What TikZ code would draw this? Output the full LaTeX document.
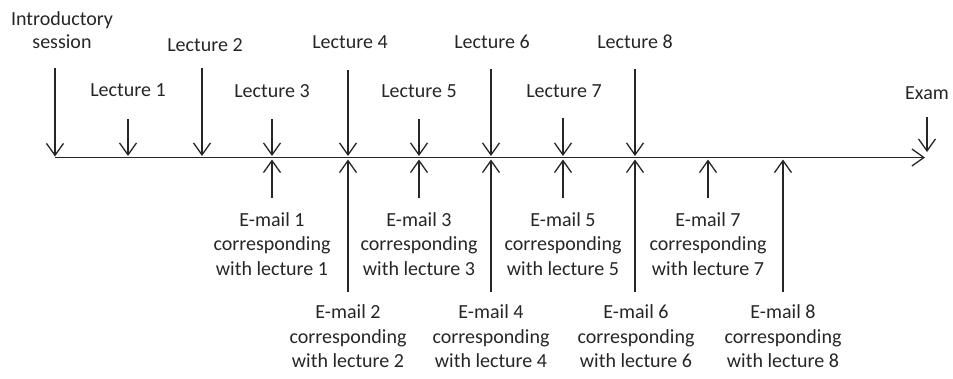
\documentclass[tikz,border=0pt]{standalone}
\usepackage{fontspec}
\setmainfont{Carlito}
\usetikzlibrary{arrows.meta}
\begin{document}
\begin{tikzpicture}[x=1pt,y=-1pt,
  lbl/.style={font=\fontsize{20}{24.5}\selectfont, inner sep=0pt, text=black!85},
  mlbl/.style={lbl, align=center, anchor=north},
  slbl/.style={lbl, anchor=base},
  arr/.style={line width=1.3pt, draw=black!85, -{Straight Barb[length=12pt,width=17pt,line width=1.3pt]}}]
\useasboundingbox (0,0) rectangle (953,378);

% axis
\coordinate (ax0) at (55,157.5);
\coordinate (ax1) at (925,157.5);
\draw[arr] (ax0) -- (ax1);

% top labels
\node[mlbl] (intro) at (62,11.5) {Introductory\\[-1.5pt]session};
\node[slbl] (l1) at (128,96) {Lecture 1};
\node[slbl] (l2) at (205,51.5) {Lecture 2};
\node[slbl] (l3) at (272,97) {Lecture 3};
\node[slbl] (l4) at (350,48.5) {Lecture 4};
\node[slbl] (l5) at (419,97) {Lecture 5};
\node[slbl] (l6) at (492,48.5) {Lecture 6};
\node[slbl] (l7) at (564,97) {Lecture 7};
\node[slbl] (l8) at (635,48.5) {Lecture 8};
\node[slbl] (exam) at (927,99) {Exam};

% down arrow starts
\coordinate (ti) at (55,68);
\coordinate (t1) at (128,119);
\coordinate (t2) at (202,68);
\coordinate (t3) at (272,119);
\coordinate (t4) at (348,70);
\coordinate (t5) at (419,119);
\coordinate (t6) at (491,69);
\coordinate (t7) at (563,118);
\coordinate (t8) at (635,69);
\coordinate (tx) at (927,117);
% down arrow ends, on the axis
\coordinate (ai) at (55,156.5);
\coordinate (a1) at (128,156);
\coordinate (a2) at (202,156);
\coordinate (a3) at (272,156);
\coordinate (a4) at (348,156);
\coordinate (a5) at (419,156);
\coordinate (a6) at (491,156);
\coordinate (a7) at (563,156);
\coordinate (a8) at (635,156);
\coordinate (ax) at (927,152);
% up arrow ends, on the axis
\coordinate (u3) at (272,159.5);
\coordinate (u4) at (348,159.5);
\coordinate (u5) at (419,159.5);
\coordinate (u6) at (491,159.5);
\coordinate (u7) at (563,159.5);
\coordinate (u8) at (635,159.5);
\coordinate (u9) at (708,159.5);
\coordinate (u10) at (783,159.5);

\foreach \s/\e in {ti/ai,t1/a1,t2/a2,t3/a3,t4/a4,t5/a5,t6/a6,t7/a7,t8/a8,tx/ax}
  \draw[arr] (\s) -- (\e);

% e-mail labels
\node[mlbl] (e1) at (272,212) {E-mail 1\\corresponding\\with lecture 1};
\node[mlbl] (e3) at (419,212) {E-mail 3\\corresponding\\with lecture 3};
\node[mlbl] (e5) at (563,212) {E-mail 5\\corresponding\\with lecture 5};
\node[mlbl] (e7) at (708,212) {E-mail 7\\corresponding\\with lecture 7};
\node[mlbl] (e2) at (348,304.5) {E-mail 2\\corresponding\\with lecture 2};
\node[mlbl] (e4) at (491,304.5) {E-mail 4\\corresponding\\with lecture 4};
\node[mlbl] (e6) at (636,304.5) {E-mail 6\\corresponding\\with lecture 6};
\node[mlbl] (e8) at (783,304.5) {E-mail 8\\corresponding\\with lecture 8};

% up arrow starts
\coordinate (b1) at (272,198);
\coordinate (b3) at (419,198);
\coordinate (b5) at (563,198);
\coordinate (b7) at (708,198);
\coordinate (b2) at (348,292);
\coordinate (b4) at (491,292);
\coordinate (b6) at (635,292);
\coordinate (b8) at (783,292);

\foreach \s/\e in {b1/u3,b3/u5,b5/u7,b7/u9,b2/u4,b4/u6,b6/u8,b8/u10}
  \draw[arr] (\s) -- (\e);
\end{tikzpicture}
\end{document}
